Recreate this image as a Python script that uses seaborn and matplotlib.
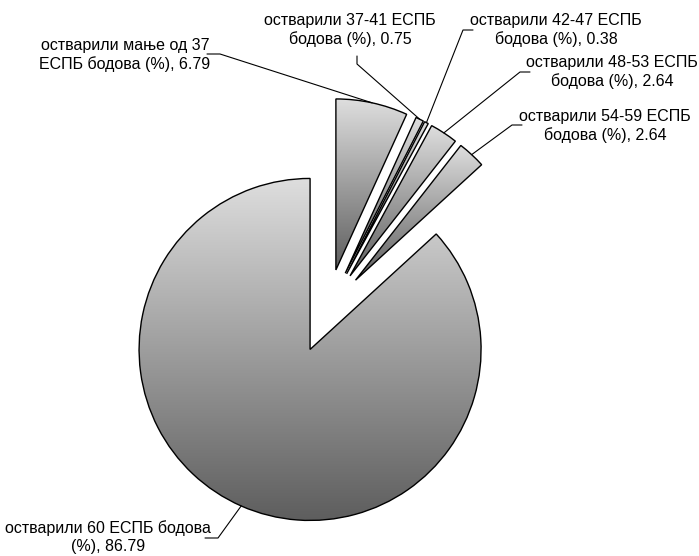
import numpy as np
import matplotlib
matplotlib.use("Agg")
import matplotlib.pyplot as plt
import seaborn as sns
from matplotlib.colors import LinearSegmentedColormap

sns.set_theme(style="white")
plt.rcParams['font.family'] = ['Liberation Sans', 'DejaVu Sans']

categories = [
    "остварили мање од 37\nЕСПБ бодова (%)",
    "остварили 37-41 ЕСПБ\nбодова (%)",
    "остварили 42-47 ЕСПБ\nбодова (%)",
    "остварили 48-53 ЕСПБ\nбодова (%)",
    "остварили 54-59 ЕСПБ\nбодова (%)",
    "остварили 60 ЕСПБ бодова\n(%)",
]
values = [6.79, 0.75, 0.38, 2.64, 2.64, 86.79]

# label layout (pixel positions of text centre, leader end at text, elbow)
W, H = 699, 556
CX, CY, R = 327, 311, 171
label_pos = [(125, 55), (350, 30), (556, 30), (612, 72), (605, 126), (108, 537)]
leader_end = [(207, 54), (357, 56), (473, 30), (530, 72), (522, 125), (205, 538)]
leader_elbow = [(220, 54), (357, 64), (463, 30), (520, 72), (512, 125), (218, 538)]

def px(p):
    return ((p[0] - CX) / R, (CY - p[1]) / R)

fig = plt.figure(figsize=(W / 100, H / 100), dpi=100)
ax = fig.add_axes([0, 0, 1, 1])
ax.set_xlim(-CX / R, (W - CX) / R)
ax.set_ylim(-(H - CY) / R, CY / R)
ax.set_aspect('equal')
ax.axis('off')

explode_frac = 42 / R
wedges, _ = ax.pie(values, startangle=90, counterclock=False,
                   explode=[explode_frac] * len(values), radius=1.0,
                   colors=['none'] * len(values),
                   wedgeprops=dict(edgecolor='black', linewidth=1.0))

cmap = LinearSegmentedColormap.from_list("g", ["#dedede", "#5e5e5e"])
grad = np.linspace(0, 1, 256).reshape(-1, 1)
for w in wedges:
    bb = w.get_path().get_extents(w.get_patch_transform())
    im = ax.imshow(grad, cmap=cmap, aspect='auto', origin='upper',
                   extent=[bb.x0, bb.x1, bb.y0, bb.y1], zorder=1)
    im.set_clip_path(w)
    w.set_zorder(2)

ax.set_xlim(-CX / R, (W - CX) / R)
ax.set_ylim(-(H - CY) / R, CY / R)

for i, w in enumerate(wedges):
    th = np.deg2rad((w.theta1 + w.theta2) / 2)
    cx, cy = w.center
    tip = (cx + np.cos(th) * w.r, cy + np.sin(th) * w.r)
    e = px(leader_elbow[i])
    s = px(leader_end[i])
    ax.plot([tip[0], e[0], s[0]], [tip[1], e[1], s[1]], color='black', lw=0.8, zorder=3)
    lp = px(label_pos[i])
    ax.text(lp[0], lp[1], f"{categories[i]}, {values[i]:.2f}", ha='center', va='center',
            fontsize=11.5, linespacing=1.2, color='black', zorder=4)

fig.savefig("out.png", dpi=100)
